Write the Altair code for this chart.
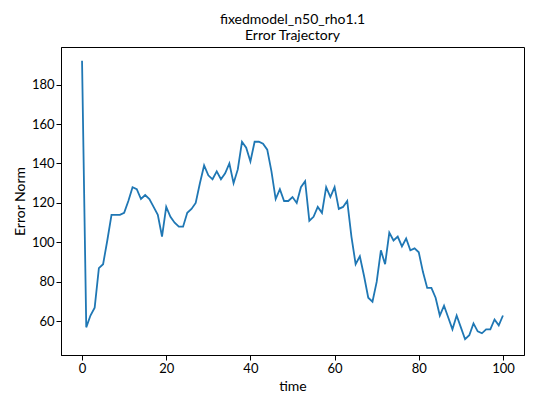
import altair as alt
import pandas as pd

time = list(range(101))
error_norm = [192,57,63,67,87,89,101,114,114,114,115,121,128,127,122,124,122,118,114,103,
118,113,110,108,108,115,117,120,130,139,134,132,136,132,135,140,130,137,151,148,
141,151,151,150,147,136,122,127,121,121,123,120,128,131,111,113,118,115,128,123,
128,117,118,121,103,89,93,83,72,70,80,96,89,105,101,103,98,102,96,97,
95,85,77,77,72,63,68,62,56,63,57,51,53,59,55,54,56,56,61,58,63]

df = pd.DataFrame({"time": time, "err": error_norm})
font = "Lato"
chart = alt.Chart(df).mark_line(color="#1f77b4", strokeWidth=1.8).encode(
    x=alt.X("time:Q", title="time", scale=alt.Scale(domain=[-5, 105], nice=False, zero=False),
            axis=alt.Axis(values=[0, 20, 40, 60, 80, 100], grid=False)),
    y=alt.Y("err:Q", title="Error Norm", scale=alt.Scale(domain=[43, 199], nice=False, zero=False),
            axis=alt.Axis(values=[60, 80, 100, 120, 140, 160, 180], grid=False)),
).properties(
    width=463, height=308,
    title=alt.TitleParams(["fixedmodel_n50_rho1.1", "Error Trajectory"], fontSize=14,
                          fontWeight="normal", font=font, color="black", offset=4),
).configure_axis(
    labelFont=font, titleFont=font, labelFontSize=13, titleFontSize=14, titleFontWeight="normal",
    labelColor="black", titleColor="black", domainColor="black", tickColor="black",
).configure_view(stroke="black")

chart.save("out.html", embed_options={"renderer": "svg", "actions": False})
